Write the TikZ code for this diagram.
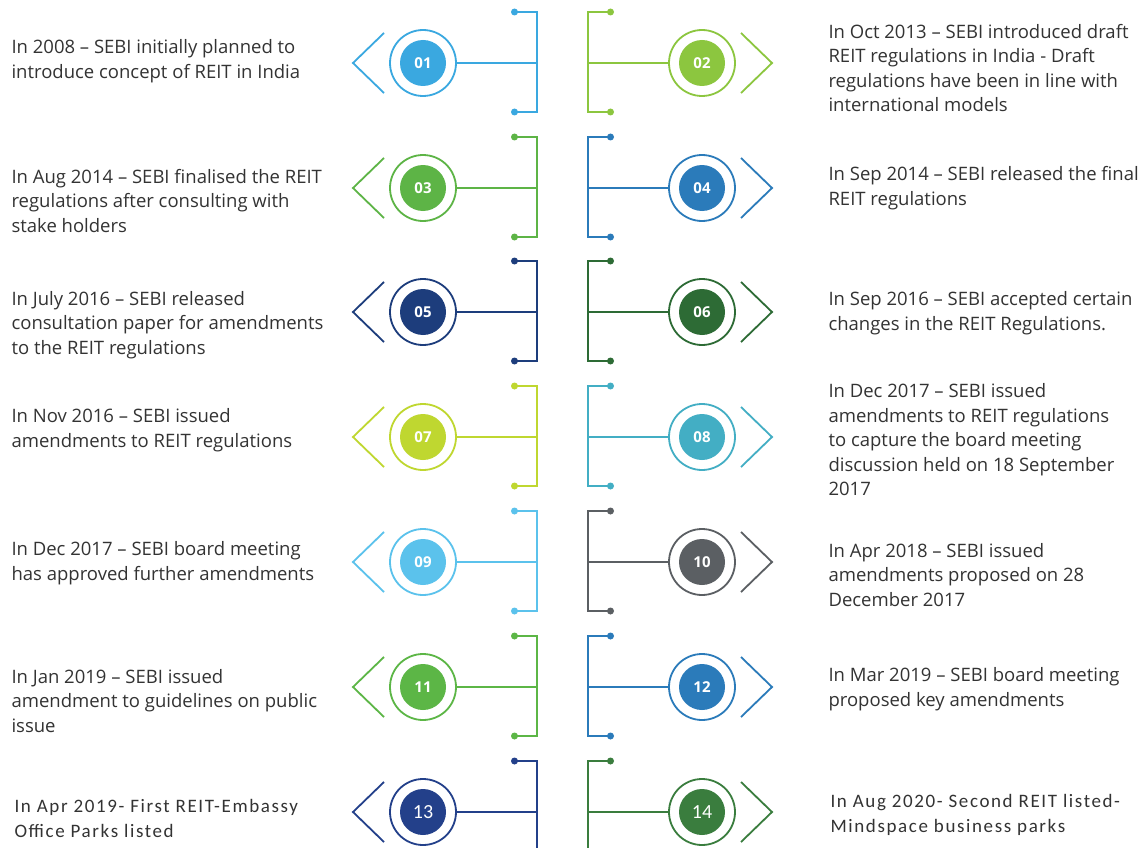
\documentclass[tikz,border=0pt]{standalone}
\usepackage{fontspec}
\usetikzlibrary{calc}
\setmainfont{Open Sans}
\newfontfamily\calib[LetterSpace=8.5]{Carlito}
\newfontfamily\calibnum{Carlito}
\definecolor{c01}{HTML}{3AA8E0}
\definecolor{c02}{HTML}{8CC63F}
\definecolor{c03}{HTML}{5DB446}
\definecolor{c04}{HTML}{2B7BBA}
\definecolor{c05}{HTML}{1D3D7C}
\definecolor{c06}{HTML}{2D6B35}
\definecolor{c07}{HTML}{BFD730}
\definecolor{c08}{HTML}{43AEC4}
\definecolor{c09}{HTML}{5BC2EC}
\definecolor{c10}{HTML}{5B5F63}
\definecolor{c11}{HTML}{5CB646}
\definecolor{c12}{HTML}{2B7BBA}
\definecolor{c13}{HTML}{23408A}
\definecolor{c14}{HTML}{3A7D3E}
\definecolor{txt}{HTML}{333333}
\tikzset{
  ring/.style={circle, draw, line width=1.8pt, minimum size=66pt, inner sep=0pt},
  disc/.style={circle, minimum size=46pt, inner sep=0pt, text=white},
  numA/.style={font=\fontsize{15}{15}\selectfont\bfseries},
  numB/.style={font=\calibnum\fontsize{20}{20}\selectfont},
  leg/.style={line width=1.8pt},
  dot/.style={circle, inner sep=0pt, minimum size=7pt},
  note/.style={anchor=west, align=left, text=txt, font=\fontsize{18.5}{24.5}\selectfont},
  note2/.style={anchor=west, align=left, text=txt, font=\calib\fontsize{19}{25}\selectfont}
}
\begin{document}
\begin{tikzpicture}[x=1pt, y=-1pt]
\useasboundingbox[fill=white] (0,0) rectangle (1143,848);
% markers with their brackets
\foreach \n/\d/\y/\f in {01/-1/63/numA, 02/1/63/numA, 03/-1/188/numA, 04/1/188/numA,
    05/-1/312/numA, 06/1/312/numA, 07/-1/437/numA, 08/1/437/numA,
    09/-1/562/numA, 10/1/562/numA, 11/-1/687/numA, 12/1/687/numA,
    13/-1/812/numB, 14/1/812/numB}{
  \node[ring, draw=c\n] (r\n) at (562.5+\d*139.5, \y) {};
  \node[disc, fill=c\n, \f] (n\n) at (r\n) {\n};
  \coordinate (m\n) at (562.5+\d*25.5, \y);
  \node[dot, fill=c\n] (t\n) at (562.5+\d*48, \y-51) {};
  \node[dot, fill=c\n] (b\n) at (562.5+\d*48, \y+49) {};
  \coordinate (tip\n) at (562.5+\d*209.5, \y);
  \draw[leg, c\n] (r\n) -- (m\n);
  \draw[leg, c\n] (t\n.center) -| (m\n) |- (b\n.center);
  \draw[leg, c\n, line join=miter] ($(tip\n)+(-\d*31,-30)$) -- (tip\n) -- ($(tip\n)+(-\d*31,30)$);
}
% left notes
\node[note] (l01) at (8,61) {In 2008 -- SEBI initially planned to\\introduce concept of REIT in India};
\node[note] (l03) at (8,201) {In Aug 2014 -- SEBI finalised the REIT\\regulations after consulting with\\stake holders};
\node[note] (l05) at (8,325) {In July 2016 -- SEBI released\\consultation paper for amendments\\to the REIT regulations};
\node[note] (l07) at (8,430) {In Nov 2016 -- SEBI issued\\amendments to REIT regulations};
\node[note] (l09) at (8,563) {In Dec 2017 -- SEBI board meeting\\has approved further amendments};
\node[note] (l11) at (8,701) {In Jan 2019 -- SEBI issued\\amendment to guidelines on public\\issue};
\node[note2] (l13) at (11,818) {In Apr 2019- First REIT-Embassy\\Office Parks listed};
% right notes
\node[note] (l02) at (825,68) {In Oct 2013 -- SEBI introduced draft\\REIT regulations in India - Draft\\regulations have been in line with\\international models};
\node[note] (l04) at (825,188) {In Sep 2014 -- SEBI released the final\\REIT regulations};
\node[note] (l06) at (825,313) {In Sep 2016 -- SEBI accepted certain\\changes in the REIT Regulations.};
\node[note] (l08) at (825,440) {In Dec 2017 -- SEBI issued\\amendments to REIT regulations\\to capture the board meeting\\discussion held on 18 September\\2017};
\node[note] (l10) at (825,575) {In Apr 2018 -- SEBI issued\\amendments proposed on 28\\December 2017};
\node[note] (l12) at (825,689) {In Mar 2019 -- SEBI board meeting\\proposed key amendments};
\node[note2] (l14) at (827,815) {In Aug 2020- Second REIT listed-\\Mindspace business parks};
\end{tikzpicture}
\end{document}
